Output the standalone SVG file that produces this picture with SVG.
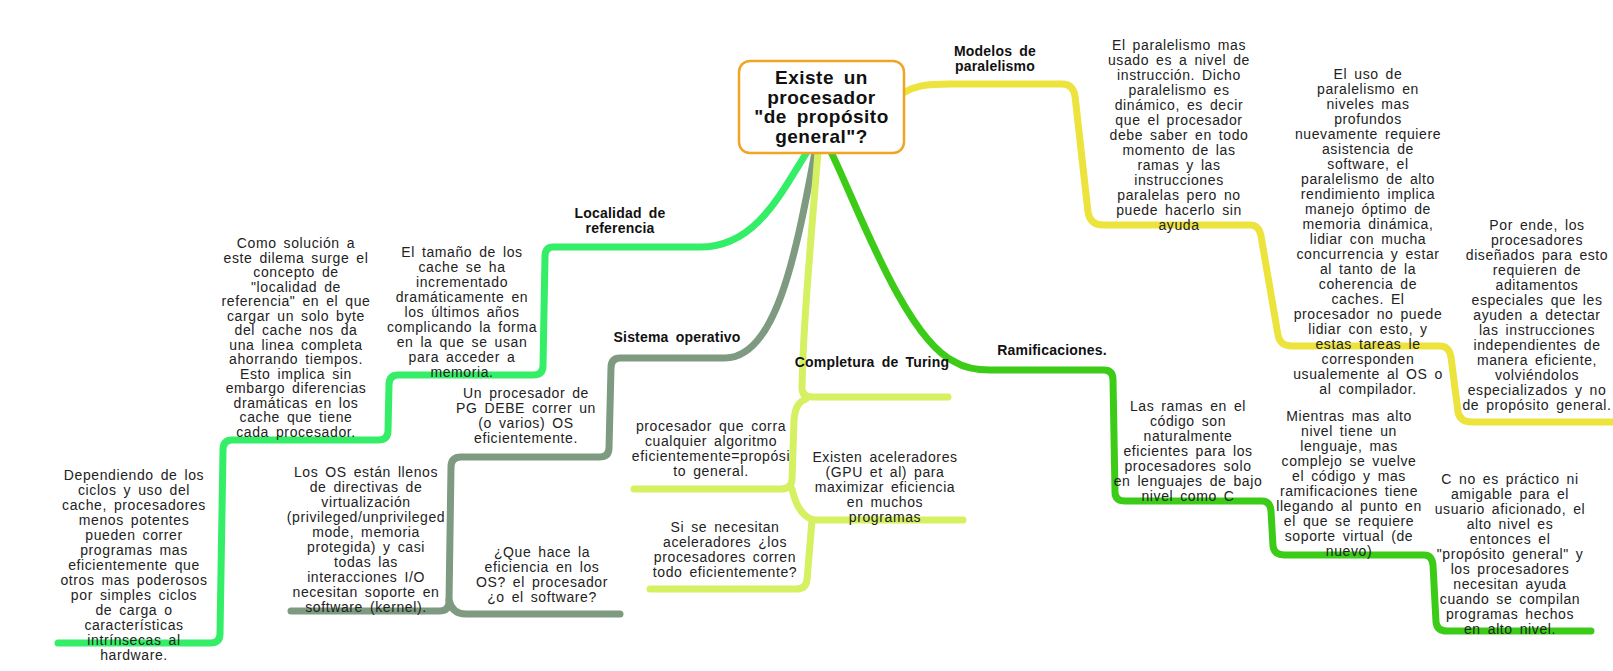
<svg xmlns="http://www.w3.org/2000/svg" width="1613" height="671" viewBox="0 0 1613 671">
<style>
.c{fill:none;stroke-width:7;stroke-linecap:round;stroke-linejoin:round}
.y{stroke:#ECE33C}.g{stroke:#33EE66}.s{stroke:#7E9A80}.l{stroke:#D5F060}.d{stroke:#3CCC18}
.t{font-family:"Liberation Sans",Arial,sans-serif;font-size:14px;fill:#222;letter-spacing:0.6px;word-spacing:2.5px;text-anchor:middle}
.b{font-family:"Liberation Sans",Arial,sans-serif;font-size:14px;font-weight:bold;fill:#111;letter-spacing:0.2px;word-spacing:3px;text-anchor:middle}
.h{font-family:"Liberation Sans",Arial,sans-serif;font-size:19px;font-weight:bold;fill:#111;letter-spacing:0.5px;word-spacing:4px;text-anchor:middle}
</style>
<rect width="1613" height="671" fill="#fff"/>
<g id="connectors">
<path class="c y" d="M 903,93 C 915,86 925,84 950,84 L 1062,84 Q 1073,84 1075,96 L 1088,212 Q 1090,225 1103,225 L 1250,225 Q 1259,225 1261,236 L 1278,335 Q 1280,346 1292,346 L 1440,346 Q 1449,346 1451,357 L 1458,412 Q 1460,422 1472,422 L 1613,422"/>
<path class="c d" d="M 831,152 C 855,200 905,340 955,362 Q 968,370 990,370 L 1104,370 Q 1113,370 1113,380 L 1115,492 Q 1115,501 1125,501 L 1262,501 Q 1270,501 1271,511 L 1273,546 Q 1274,555 1284,555 L 1424,555 Q 1432,555 1433,565 L 1436,622 Q 1437,631 1447,631 L 1591,631"/>
<path class="c g" d="M 807,152 C 780,195 755,247 700,247 L 553,247 Q 545,247 545,257 L 543,366 Q 543,375 533,375 L 398,375 Q 389,375 389,385 L 388,431 Q 388,440 378,440 L 232,440 Q 223,440 223,450 L 220,634 Q 220,643 210,643 L 58,643"/>
<path class="c s" d="M 815,152 C 795,260 775,358 725,358 L 620,358 Q 611,358 611,368 L 609,448 Q 609,457 599,457 L 461,457 Q 451,457 451,467 L 449,602 Q 449,611 439,611 L 291,611"/>
<path class="c s" d="M 449,600 Q 452,614 466,614 L 620,614"/>
<path class="c l" d="M 818,152 C 810,250 803,330 802,388 Q 802,397 812,397 L 948,397"/>
<path class="c l" d="M 806,399 C 797,402 795,410 794,420 L 792,480 Q 791,489 781,489 L 634,489"/>
<path class="c l" d="M 792,489 Q 798,516 814,520 L 963,520"/>
<path class="c l" d="M 812,520 L 807,580 Q 806,589 796,589 L 650,589"/>
</g>
<g id="root">
<rect x="739" y="61" width="165" height="92" rx="11" fill="#fff" stroke="#F2A424" stroke-width="2.5"/>
<text class="h" x="821.5" y="84"><tspan x="821.5">Existe un</tspan><tspan x="821.5" dy="19.5">procesador</tspan><tspan x="821.5" dy="19.5">"de propósito</tspan><tspan x="821.5" dy="19.5">general"?</tspan></text>
</g>
<g id="modelos">
<text class="b" x="995" y="56"><tspan x="995">Modelos de</tspan><tspan x="995" dy="15">paralelismo</tspan></text>
</g>
<g id="modelos-1">
<text class="t" x="1179" y="50"><tspan x="1179">El paralelismo mas</tspan><tspan x="1179" dy="15">usado es a nivel de</tspan><tspan x="1179" dy="15">instrucción. Dicho</tspan><tspan x="1179" dy="15">paralelismo es</tspan><tspan x="1179" dy="15">dinámico, es decir</tspan><tspan x="1179" dy="15">que el procesador</tspan><tspan x="1179" dy="15">debe saber en todo</tspan><tspan x="1179" dy="15">momento de las</tspan><tspan x="1179" dy="15">ramas y las</tspan><tspan x="1179" dy="15">instrucciones</tspan><tspan x="1179" dy="15">paralelas pero no</tspan><tspan x="1179" dy="15">puede hacerlo sin</tspan><tspan x="1179" dy="15">ayuda</tspan></text>
</g>
<g id="modelos-2">
<text class="t" x="1368" y="79"><tspan x="1368">El uso de</tspan><tspan x="1368" dy="15">paralelismo en</tspan><tspan x="1368" dy="15">niveles mas</tspan><tspan x="1368" dy="15">profundos</tspan><tspan x="1368" dy="15">nuevamente requiere</tspan><tspan x="1368" dy="15">asistencia de</tspan><tspan x="1368" dy="15">software, el</tspan><tspan x="1368" dy="15">paralelismo de alto</tspan><tspan x="1368" dy="15">rendimiento implica</tspan><tspan x="1368" dy="15">manejo óptimo de</tspan><tspan x="1368" dy="15">memoria dinámica,</tspan><tspan x="1368" dy="15">lidiar con mucha</tspan><tspan x="1368" dy="15">concurrencia y estar</tspan><tspan x="1368" dy="15">al tanto de la</tspan><tspan x="1368" dy="15">coherencia de</tspan><tspan x="1368" dy="15">caches. El</tspan><tspan x="1368" dy="15">procesador no puede</tspan><tspan x="1368" dy="15">lidiar con esto, y</tspan><tspan x="1368" dy="15">estas tareas le</tspan><tspan x="1368" dy="15">corresponden</tspan><tspan x="1368" dy="15">usualemente al OS o</tspan><tspan x="1368" dy="15">al compilador.</tspan></text>
</g>
<g id="modelos-3">
<text class="t" x="1537" y="230"><tspan x="1537">Por ende, los</tspan><tspan x="1537" dy="15">procesadores</tspan><tspan x="1537" dy="15">diseñados para esto</tspan><tspan x="1537" dy="15">requieren de</tspan><tspan x="1537" dy="15">aditamentos</tspan><tspan x="1537" dy="15">especiales que les</tspan><tspan x="1537" dy="15">ayuden a detectar</tspan><tspan x="1537" dy="15">las instrucciones</tspan><tspan x="1537" dy="15">independientes de</tspan><tspan x="1537" dy="15">manera eficiente,</tspan><tspan x="1537" dy="15">volviéndolos</tspan><tspan x="1537" dy="15">especializados y no</tspan><tspan x="1537" dy="15">de propósito general.</tspan></text>
</g>
<g id="ramificaciones">
<text class="b" x="1052" y="355">Ramificaciones.</text>
</g>
<g id="ramificaciones-1">
<text class="t" x="1188" y="411"><tspan x="1188">Las ramas en el</tspan><tspan x="1188" dy="15">código son</tspan><tspan x="1188" dy="15">naturalmente</tspan><tspan x="1188" dy="15">eficientes para los</tspan><tspan x="1188" dy="15">procesadores solo</tspan><tspan x="1188" dy="15">en lenguajes de bajo</tspan><tspan x="1188" dy="15">nivel como C</tspan></text>
</g>
<g id="ramificaciones-2">
<text class="t" x="1349" y="421"><tspan x="1349">Mientras mas alto</tspan><tspan x="1349" dy="15">nivel tiene un</tspan><tspan x="1349" dy="15">lenguaje, mas</tspan><tspan x="1349" dy="15">complejo se vuelve</tspan><tspan x="1349" dy="15">el código y mas</tspan><tspan x="1349" dy="15">ramificaciones tiene</tspan><tspan x="1349" dy="15">llegando al punto en</tspan><tspan x="1349" dy="15">el que se requiere</tspan><tspan x="1349" dy="15">soporte virtual (de</tspan><tspan x="1349" dy="15">nuevo)</tspan></text>
</g>
<g id="ramificaciones-3">
<text class="t" x="1510" y="484"><tspan x="1510">C no es práctico ni</tspan><tspan x="1510" dy="15">amigable para el</tspan><tspan x="1510" dy="15">usuario aficionado, el</tspan><tspan x="1510" dy="15">alto nivel es</tspan><tspan x="1510" dy="15">entonces el</tspan><tspan x="1510" dy="15">"propósito general" y</tspan><tspan x="1510" dy="15">los procesadores</tspan><tspan x="1510" dy="15">necesitan ayuda</tspan><tspan x="1510" dy="15">cuando se compilan</tspan><tspan x="1510" dy="15">programas hechos</tspan><tspan x="1510" dy="15">en alto nivel.</tspan></text>
</g>
<g id="localidad">
<text class="b" x="620" y="218"><tspan x="620">Localidad de</tspan><tspan x="620" dy="15">referencia</tspan></text>
</g>
<g id="localidad-1">
<text class="t" x="462" y="257"><tspan x="462">El tamaño de los</tspan><tspan x="462" dy="15">cache se ha</tspan><tspan x="462" dy="15">incrementado</tspan><tspan x="462" dy="15">dramáticamente en</tspan><tspan x="462" dy="15">los últimos años</tspan><tspan x="462" dy="15">complicando la forma</tspan><tspan x="462" dy="15">en la que se usan</tspan><tspan x="462" dy="15">para acceder a</tspan><tspan x="462" dy="15">memoria.</tspan></text>
</g>
<g id="localidad-2">
<text class="t" x="296" y="248"><tspan x="296">Como solución a</tspan><tspan x="296" dy="14.5">este dilema surge el</tspan><tspan x="296" dy="14.5">concepto de</tspan><tspan x="296" dy="14.5">"localidad de</tspan><tspan x="296" dy="14.5">referencia" en el que</tspan><tspan x="296" dy="14.5">cargar un solo byte</tspan><tspan x="296" dy="14.5">del cache nos da</tspan><tspan x="296" dy="14.5">una linea completa</tspan><tspan x="296" dy="14.5">ahorrando tiempos.</tspan><tspan x="296" dy="14.5">Esto implica sin</tspan><tspan x="296" dy="14.5">embargo diferencias</tspan><tspan x="296" dy="14.5">dramáticas en los</tspan><tspan x="296" dy="14.5">cache que tiene</tspan><tspan x="296" dy="14.5">cada procesador.</tspan></text>
</g>
<g id="localidad-3">
<text class="t" x="134" y="480"><tspan x="134">Dependiendo de los</tspan><tspan x="134" dy="15">ciclos y uso del</tspan><tspan x="134" dy="15">cache, procesadores</tspan><tspan x="134" dy="15">menos potentes</tspan><tspan x="134" dy="15">pueden correr</tspan><tspan x="134" dy="15">programas mas</tspan><tspan x="134" dy="15">eficientemente que</tspan><tspan x="134" dy="15">otros mas poderosos</tspan><tspan x="134" dy="15">por simples ciclos</tspan><tspan x="134" dy="15">de carga o</tspan><tspan x="134" dy="15">características</tspan><tspan x="134" dy="15">intrínsecas al</tspan><tspan x="134" dy="15">hardware.</tspan></text>
</g>
<g id="sistema">
<text class="b" x="677" y="342">Sistema operativo</text>
</g>
<g id="sistema-1">
<text class="t" x="526" y="398"><tspan x="526">Un procesador de</tspan><tspan x="526" dy="15">PG DEBE correr un</tspan><tspan x="526" dy="15">(o varios) OS</tspan><tspan x="526" dy="15">eficientemente.</tspan></text>
</g>
<g id="sistema-2">
<text class="t" x="366" y="477"><tspan x="366">Los OS están llenos</tspan><tspan x="366" dy="15">de directivas de</tspan><tspan x="366" dy="15">virtualización</tspan><tspan x="366" dy="15">(privileged/unprivileged</tspan><tspan x="366" dy="15">mode, memoria</tspan><tspan x="366" dy="15">protegida) y casi</tspan><tspan x="366" dy="15">todas las</tspan><tspan x="366" dy="15">interacciones I/O</tspan><tspan x="366" dy="15">necesitan soporte en</tspan><tspan x="366" dy="15">software (kernel).</tspan></text>
</g>
<g id="sistema-3">
<text class="t" x="542" y="557"><tspan x="542">¿Que hace la</tspan><tspan x="542" dy="15">eficiencia en los</tspan><tspan x="542" dy="15">OS? el procesador</tspan><tspan x="542" dy="15">¿o el software?</tspan></text>
</g>
<g id="turing">
<text class="b" x="872" y="367">Completura de Turing</text>
</g>
<g id="turing-1">
<text class="t" x="711" y="431"><tspan x="711">procesador que corra</tspan><tspan x="711" dy="15">cualquier algoritmo</tspan><tspan x="711" dy="15">eficientemente=propósi</tspan><tspan x="711" dy="15">to general.</tspan></text>
</g>
<g id="turing-2">
<text class="t" x="885" y="462"><tspan x="885">Existen aceleradores</tspan><tspan x="885" dy="15">(GPU et al) para</tspan><tspan x="885" dy="15">maximizar eficiencia</tspan><tspan x="885" dy="15">en muchos</tspan><tspan x="885" dy="15">programas</tspan></text>
</g>
<g id="turing-3">
<text class="t" x="725" y="532"><tspan x="725">Si se necesitan</tspan><tspan x="725" dy="15">aceleradores ¿los</tspan><tspan x="725" dy="15">procesadores corren</tspan><tspan x="725" dy="15">todo eficientemente?</tspan></text>
</g>
</svg>
